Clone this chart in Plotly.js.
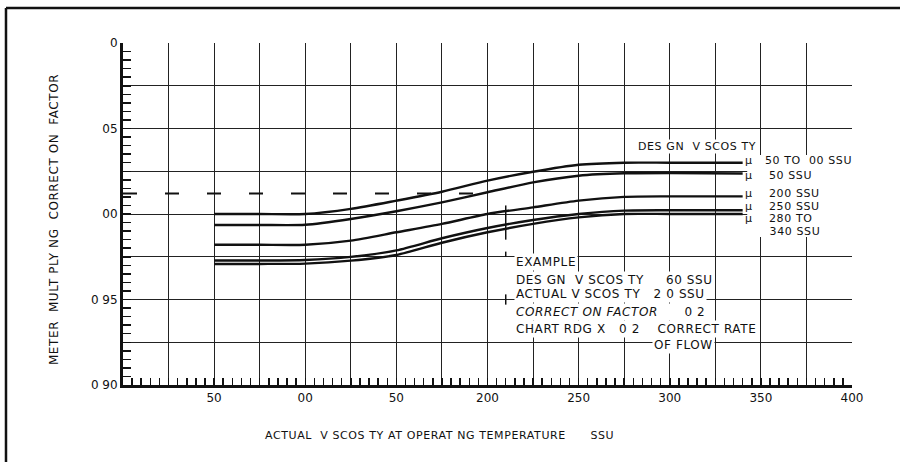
<!DOCTYPE html>
<html>
<head>
<meta charset="utf-8">
<script src="https://cdn.plot.ly/plotly-3.0.1.min.js"></script>
<style>
html,body{margin:0;padding:0;background:#fff}
.annotation-text{letter-spacing:0.6px}
</style>
</head>
<body>
<div id="chart" style="width:900px;height:462px"></div>
<script>
// Actual viscosity at operating temperature (SSU)
const viscosityX = [50, 75, 100, 125, 150, 175, 200, 225, 250, 275, 300, 340];
// Correction factor curves per design viscosity
const curve50to100 = [1.000, 1.000, 1.000, 1.003, 1.0078, 1.013, 1.0195, 1.0247, 1.0288, 1.030, 1.030, 1.030];
const curve150     = [0.9936, 0.9936, 0.9937, 0.9971, 1.0016, 1.0068, 1.0127, 1.0185, 1.0224, 1.0238, 1.024, 1.0237];
const curve200     = [0.982, 0.982, 0.982, 0.9844, 0.9893, 0.9942, 1.000, 1.0039, 1.0078, 1.010, 1.0103, 1.0103];
const curve250     = [0.9728, 0.9728, 0.9731, 0.9749, 0.9787, 0.9858, 0.9918, 0.9965, 1.000, 1.002, 1.0022, 1.0022];
const curve280to340= [0.9708, 0.9708, 0.971, 0.9727, 0.976, 0.9832, 0.9893, 0.9942, 0.998, 1.000, 1.000, 1.000];

// Example: design 160 SSU, actual 210 SSU -> factor 1.012
const exampleDashX = [0, 205];
const exampleDashY = [1.012, 1.012];
const exampleMarkX = [210, 210, null, 210, 210, null, 210, 210];
const exampleMarkY = [1.005, 0.985, null, 0.978, 0.975, null, 0.953, 0.947];

// Axis ticks / labels
const xTickVals = [25, 50, 75, 100, 125, 150, 175, 200, 225, 250, 275, 300, 325, 350, 375, 400];
const xTickText = ["", "50", "", "00", "", "50", "", "200", "", "250", "", "300", "", "350", "", "400"];
const yTickVals = [0.90, 0.925, 0.95, 0.975, 1.00, 1.025, 1.05, 1.075, 1.10];
const yTickText = ["0 90", "", "0 95", "", "00", "", "05", "", "0"];

const curveLabels = ["μ   50 TO  00 SSU", "μ    50 SSU", "μ    200 SSU", "μ    250 SSU", "μ    280 TO", "      340 SSU"];
const curveLabelY = [1.0310, 1.0224, 1.0117, 1.0046, 0.9972, 0.9899];

const exampleLines = ["EXAMPLE", "DES GN  V SCOS TY     60 SSU", "ACTUAL V SCOS TY   2 0 SSU", "<i>CORRECT ON FACTOR</i>      0 2", "CHART RDG X   0 2    CORRECT RATE"];
const exampleLineY = [0.9719, 0.9613, 0.9530, 0.9426, 0.9325];

const F = "DejaVu Sans, sans-serif";
const lineStyle = {color: "#111", width: 2.4, shape: "spline", smoothing: 0.7};

const traces = [
  {x: viscosityX, y: curve50to100, mode: "lines", line: lineStyle},
  {x: viscosityX, y: curve150, mode: "lines", line: lineStyle},
  {x: viscosityX, y: curve200, mode: "lines", line: lineStyle},
  {x: viscosityX, y: curve250, mode: "lines", line: lineStyle},
  {x: viscosityX, y: curve280to340, mode: "lines", line: lineStyle},
  {x: exampleDashX, y: exampleDashY, mode: "lines", line: {color: "#111", width: 2, dash: "14px,28px"}},
  {x: exampleMarkX, y: exampleMarkY, mode: "lines", line: {color: "#111", width: 1.5}, connectgaps: false}
];

const txt = (size) => ({family: F, size: size, color: "#111"});
const annotations = [];
annotations.push({x: 282, y: 1.0392, xref: "x", yref: "y", text: "DES GN  V SCOS TY", showarrow: false,
  xanchor: "left", yanchor: "middle", font: txt(11), bgcolor: "#fff", borderpad: 0});
curveLabels.forEach((t, i) => annotations.push({x: 341, y: curveLabelY[i], xref: "x", yref: "y", text: t,
  showarrow: false, xanchor: "left", yanchor: "middle", font: txt(11), borderpad: 0}));
exampleLines.forEach((t, i) => annotations.push({x: 214.5, y: exampleLineY[i], xref: "x", yref: "y", text: t,
  showarrow: false, xanchor: "left", yanchor: "middle", font: txt(12), bgcolor: "#fff", borderpad: 1}));
annotations.push({x: 290.5, y: 0.9232, xref: "x", yref: "y", text: "OF FLOW", showarrow: false,
  xanchor: "left", yanchor: "middle", font: txt(12), bgcolor: "#fff", borderpad: 1});
// axis titles
annotations.push({x: -0.0947, y: 0.485, xref: "paper", yref: "paper", text: "METER  MULT PLY NG  CORRECT ON  FACTOR",
  textangle: -90, showarrow: false, xanchor: "center", yanchor: "middle", font: txt(12)});
annotations.push({x: 173.6, y: -0.149, xref: "x", yref: "paper", text: "ACTUAL  V SCOS TY AT OPERAT NG TEMPERATURE      SSU",
  showarrow: false, xanchor: "center", yanchor: "middle", font: txt(11)});

const layout = {
  width: 900, height: 462,
  margin: {l: 123, r: 48, t: 43, b: 77},
  paper_bgcolor: "#fff", plot_bgcolor: "#fff",
  showlegend: false,
  xaxis: {
    range: [0, 400], tickmode: "array", tickvals: xTickVals, ticktext: xTickText,
    showline: true, linewidth: 3, linecolor: "#111", mirror: false, zeroline: false,
    ticks: "inside", ticklen: 7, tickwidth: 1.5, tickcolor: "#111",
    showgrid: true, gridcolor: "#222", gridwidth: 1,
    minor: {tickmode: "linear", tick0: 0, dtick: 5, ticks: "inside", ticklen: 7, tickwidth: 1.5, tickcolor: "#111", showgrid: false},
    tickfont: txt(12), fixedrange: true
  },
  yaxis: {
    range: [0.90, 1.10], tickmode: "array", tickvals: yTickVals, ticktext: yTickText,
    showline: true, linewidth: 3, linecolor: "#111", zeroline: false,
    ticks: "inside", ticklen: 8, tickwidth: 1.5, tickcolor: "#111",
    showgrid: true, gridcolor: "#222", gridwidth: 1,
    minor: {tickmode: "linear", tick0: 0.9, dtick: 0.005, ticks: "inside", ticklen: 8, tickwidth: 1.5, tickcolor: "#111", showgrid: false},
    tickfont: txt(12), fixedrange: true
  },
  annotations: annotations,
  shapes: [
    // white panel behind the design-viscosity labels (hides grid there)
    {type: "rect", xref: "x", yref: "y", x0: 342.5, x1: 400, y0: 0.9865, y1: 1.0345, fillcolor: "#fff", line: {width: 0}, layer: "above"},
    // frame
    {type: "line", xref: "paper", yref: "paper", x0: -0.1605, x1: 1.07, y0: 1.1023, y1: 1.1023, line: {color: "#111", width: 2.5}},
    {type: "line", xref: "paper", yref: "paper", x0: -0.1605, x1: -0.1605, y0: 1.1023, y1: -0.23, line: {color: "#111", width: 2.5}}
  ]
};

Plotly.newPlot("chart", traces, layout, {displayModeBar: false, staticPlot: true});
</script>
</body>
</html>
